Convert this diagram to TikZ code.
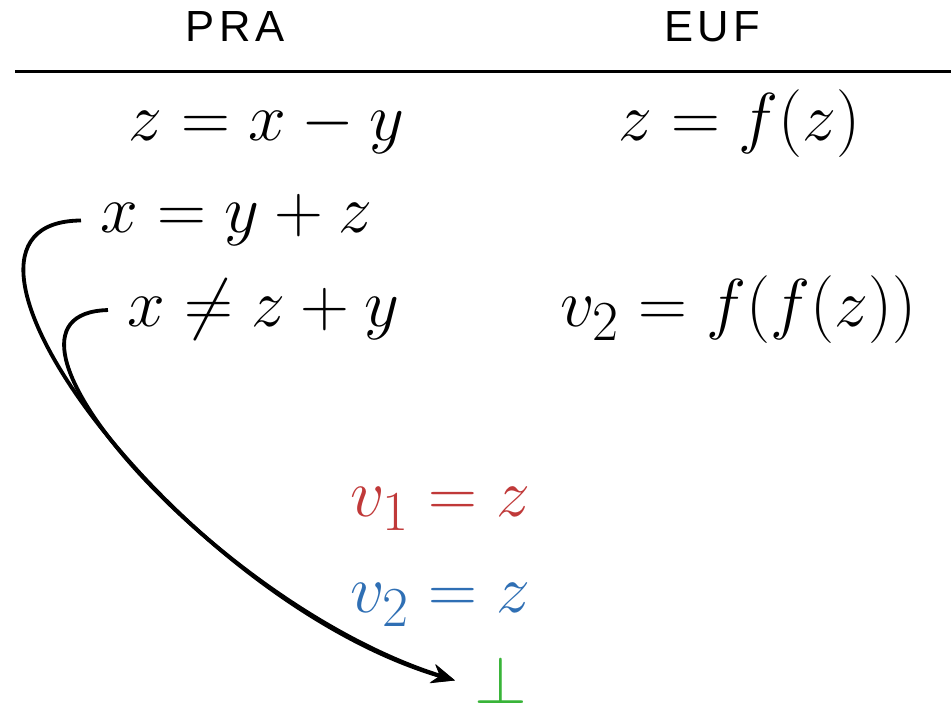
\documentclass[tikz,border=0pt]{standalone}
\usepackage{amsmath}
\usepackage{amssymb}
\usepackage{fontspec}
\usepackage{tikz}
\usetikzlibrary{arrows.meta}
\newfontfamily\headfont[LetterSpace=10]{Liberation Sans}
\definecolor{myred}{RGB}{192,57,57}
\definecolor{myblue}{RGB}{47,111,180}
\definecolor{mygreen}{RGB}{56,180,56}

\begin{document}
\begin{tikzpicture}[x=0.367pt,y=-0.367pt,
  head/.style={font={\headfont\fontsize{16}{19}\selectfont},anchor=base},
  eq/.style={font=\Huge,inner xsep=7pt,inner ysep=0pt,anchor=base west},
  conn/.style={line width=1.4pt,-{Stealth[length=8.5pt,width=7pt]}}]
  \useasboundingbox (0,0) rectangle (951,707);
  % column heads
  \node[head] (pra) at (235,42) {PRA};
  \node[head] (euf) at (712,42) {EUF};
  \draw[line width=1.1pt] (15,72) -- (951,72);
  % literals
  \node[eq] (pra1) at (109,141) {$z = x - y$};
  \node[eq] (euf1) at (599,141) {$z = f(z)$};
  \node[eq] (pra2) at (81,233) {$x = y + z$};
  \node[eq] (pra3) at (108,327) {$x \neq z + y$};
  \node[eq] (euf2) at (541,327) {$v_2 = f(f(z))$};
  % shared equalities
  \node[eq,text=myred] (v1) at (331,517) {$v_1 = z$};
  \node[eq,text=myblue] (v2) at (331,613) {$v_2 = z$};
  \node[eq,text=mygreen,anchor=base] (bot) at (501,704) {$\bot$};
  \draw[conn] (pra2.west) .. controls (-100,222) and (180,600) .. (bot.west);
  \draw[conn] (pra3.west) .. controls (-40,314) and (215,605) .. (bot.west);
\end{tikzpicture}
\end{document}
